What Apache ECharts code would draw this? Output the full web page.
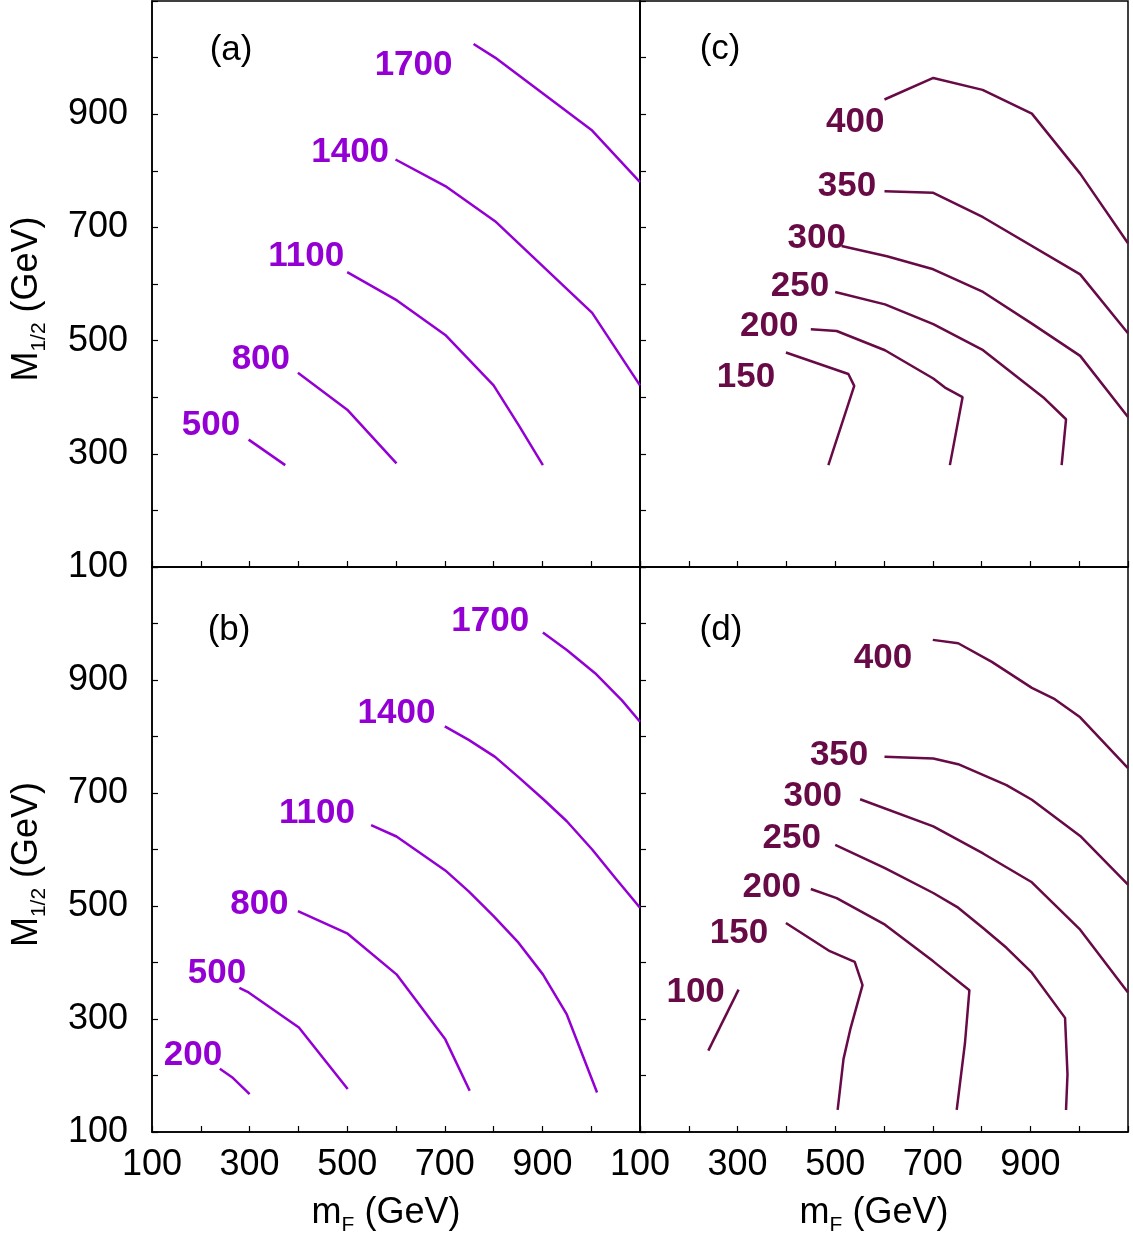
<!DOCTYPE html>
<html><head><meta charset="utf-8">
<script src="https://cdn.jsdelivr.net/npm/echarts@6/dist/echarts.min.js"></script>
<style>html,body{margin:0;padding:0;background:#fff}#c{width:1133px;height:1237px}</style>
</head><body><div id="c"></div>
<script>
// ---- tick labels ----
const xTickLabels = [100, 300, 500, 700, 900];
const yTickLabels = [100, 300, 500, 700, 900];

// ---- panel (a) ----
const aLevels = ['500', '800', '1100', '1400', '1700'];
const a500  = [[298,325],[373,280]];
const a800  = [[399,443],[500,378],[601,283]];
const a1100 = [[500,621],[602,571],[701,510],[800,421],[851,351],[901,280]];
const a1400 = [[599,820],[701,773],[803,711],[1002,549],[1100,421]];
const a1700 = [[759,1024],[803,1000],[1002,871],[1100,780]];
const aLabelAt = [[221,354],[323,470],[416,652],[506,836],[636,989]];

// ---- panel (b) ----
const bLevels = ['200', '500', '800', '1100', '1400', '1700'];
const b200  = [[239,212],[264,197],[300,167]];
const b500  = [[279,355],[298,347],[401,285],[501,176]];
const b800  = [[399,491],[501,451],[601,379],[701,264],[751,173]];
const b1100 = [[549,643],[601,623],[701,563],[749,526],[800,482],[851,435],[901,379],[950,308],[1012,170]];
const b1400 = [[700,818],[749,794],[803,764],[851,728],[903,688],[950,650],[1002,600],[1049,550],[1100,497]];
const b1700 = [[901,984],[950,953],[1008,912],[1063,864],[1100,826]];
const bLabelAt = [[184,240],[233,385],[320,507],[438,667],[601,845],[793,1007]];

// ---- panel (c) ----
const cLevels = ['150', '200', '250', '300', '350', '400'];
const c150 = [[399,479],[527,441],[539,420],[486,280]];
const c200 = [[450,520],[503,517],[602,483],[701,433],[725,417],[761,400],[735,280]];
const c250 = [[500,586],[602,564],[701,529],[803,483],[926,400],[973,361],[964,280]];
const c300 = [[513,667],[606,649],[701,626],[803,586],[903,530],[1002,473],[1100,365]];
const c350 = [[601,764],[701,761],[803,718],[1002,617],[1100,513]];
const c400 = [[601,926],[701,964],[802,943],[903,901],[1002,795],[1100,672]];
const cLabelAt = [[317,438],[365,528],[428,599],[462,684],[524,776],[541,889]];

// ---- panel (d) ----
const dLevels = ['100', '150', '200', '250', '300', '350', '400'];
const d100 = [[302,352],[240,244]];
const d150 = [[399,470],[489,420],[540,401],[556,360],[531,282],[517,229],[505,139]];
const d200 = [[450,530],[503,514],[602,467],[701,402],[775,351],[766,258],[749,139]];
const d250 = [[500,608],[602,567],[701,523],[752,497],[803,461],[851,426],[903,382],[971,302],[976,202],[973,139]];
const d300 = [[551,689],[701,641],[803,593],[903,542],[1002,458],[1100,347]];
const d350 = [[601,764],[701,761],[752,751],[851,714],[903,688],[1002,624],[1100,538]];
const d400 = [[700,971],[752,965],[821,932],[903,886],[950,866],[1002,834],[1100,744]];
const dLabelAt = [[214,351],[303,455],[370,537],[411,624],[454,698],[508,771],[598,942]];

// ---- panel letters ----
const panelLetters = ['(a)', '(b)', '(c)', '(d)'];
const panelLetterAt = [[262,1016],[258,991],[264,1018],[266,991]];

const PURPLE = '#9400d3', MAROON = '#670a46';
const FONT = '"Liberation Sans", Arial, sans-serif';

const chart = echarts.init(document.getElementById('c'), null, {renderer: 'canvas'});

const gridBoxes = [
  {left: 152, top: 1, width: 488, height: 566},
  {left: 152, top: 567, width: 488, height: 566},
  {left: 640, top: 1, width: 488, height: 566},
  {left: 640, top: 567, width: 488, height: 566}
];
const grids = gridBoxes.map(g => Object.assign({show: true, borderColor: '#000', borderWidth: 1.5, backgroundColor: 'transparent', containLabel: false}, g));

const nameRich = {
  m: {fontSize: 36, lineHeight: 46, fontFamily: FONT, color: '#000'},
  s: {fontSize: 21, verticalAlign: 'bottom', fontFamily: FONT, color: '#000'}
};

const xAxes = [0,1,2,3].map(i => {
  const bottom = (i === 1 || i === 3);
  return {
    type: 'value', gridIndex: i, min: 100, max: 1100, interval: 100,
    axisLine: {show: true, lineStyle: {color: '#000', width: 1.5}},
    axisTick: {show: true, inside: true, length: 6, lineStyle: {color: '#000', width: 1.2}},
    splitLine: {show: false},
    axisLabel: {show: bottom, margin: 15, fontSize: 36, fontFamily: FONT, color: '#000',
      formatter: v => xTickLabels.indexOf(v) >= 0 ? String(v) : ''},
    name: bottom ? '{m|m}{s|F}{m| (GeV)}' : '',
    nameLocation: 'middle', nameGap: 58,
    nameTextStyle: {rich: nameRich, padding: [0, 20, 0, 0]}
  };
});
const yAxes = [0,1,2,3].map(i => {
  const left = (i === 0 || i === 1);
  return {
    type: 'value', gridIndex: i, min: 100, max: 1100, interval: 100,
    axisLine: {show: true, lineStyle: {color: '#000', width: 1.5}},
    axisTick: {show: true, inside: true, length: 6, lineStyle: {color: '#000', width: 1.2}},
    splitLine: {show: false},
    axisLabel: {show: left, margin: 24, fontSize: 36, fontFamily: FONT, color: '#000',
      padding: [4, 0, 0, 0],
      formatter: v => yTickLabels.indexOf(v) >= 0 ? String(v) : ''},
    name: left ? '{m|M}{s|1/2}{m| (GeV)}' : '',
    nameLocation: 'middle', nameGap: 102, nameRotate: 90,
    nameTextStyle: {rich: nameRich, padding: [0, 30, 0, 0]}
  };
});

const series = [];
function addLine(data, idx, color) {
  series.push({type: 'line', xAxisIndex: idx, yAxisIndex: idx, data: data,
    symbol: 'none', showSymbol: false, smooth: false, clip: true, silent: true,
    lineStyle: {color: color, width: 2.5}});
}
function addLabels(names, pos, idx, color, size, weight) {
  series.push({type: 'scatter', xAxisIndex: idx, yAxisIndex: idx, silent: true,
    symbolSize: 0, itemStyle: {color: color},
    label: {show: true, position: 'inside', offset: [0, 2], formatter: '{b}', color: color, opacity: 1,
      fontSize: size, fontWeight: weight, fontFamily: FONT},
    data: names.map((n, k) => ({name: n, value: pos[k]}))});
}

[a500, a800, a1100, a1400, a1700].forEach(d => addLine(d, 0, PURPLE));
addLabels(aLevels, aLabelAt, 0, PURPLE, 35, 'bold');
[b200, b500, b800, b1100, b1400, b1700].forEach(d => addLine(d, 1, PURPLE));
addLabels(bLevels, bLabelAt, 1, PURPLE, 35, 'bold');
[c150, c200, c250, c300, c350, c400].forEach(d => addLine(d, 2, MAROON));
addLabels(cLevels, cLabelAt, 2, MAROON, 35, 'bold');
[d100, d150, d200, d250, d300, d350, d400].forEach(d => addLine(d, 3, MAROON));
addLabels(dLevels, dLabelAt, 3, MAROON, 35, 'bold');
[0,1,2,3].forEach(i => addLabels([panelLetters[i]], [panelLetterAt[i]], i, '#000', 35, 'normal'));

chart.setOption({
  animation: false,
  backgroundColor: '#fff',
  grid: grids,
  xAxis: xAxes,
  yAxis: yAxes,
  series: series
});
</script>
</body></html>
